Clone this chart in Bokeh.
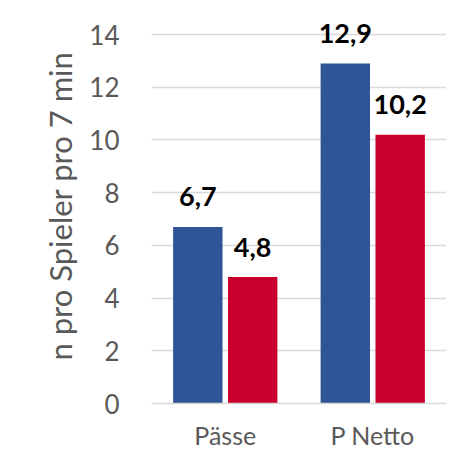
from bokeh.plotting import figure
from bokeh.models import ColumnDataSource, FixedTicker, Range1d
from bokeh.transform import dodge
from bokeh.core.properties import value
from bokeh.embed import file_html
from bokeh.resources import INLINE

categories = ["Pässe", "P Netto"]
series_a = [6.7, 12.9]
series_b = [4.8, 10.2]
labels_a = ["6,7", "12,9"]
labels_b = ["4,8", "10,2"]
y_ticks = [0, 2, 4, 6, 8, 10, 12, 14]

BLUE = "#2F5597"
RED = "#C9002F"
GRID = "#D9D9D9"
TXT = "#595959"
FONT = "Lato"

src = ColumnDataSource(dict(cat=categories, a=series_a, b=series_b, la=labels_a, lb=labels_b))

p = figure(x_range=categories, y_range=Range1d(0, 14.99), width=446, height=464,
           output_backend="svg", toolbar_location=None,
           min_border_left=151, min_border_right=0, min_border_top=8, min_border_bottom=61)
p.x_range.range_padding = 0

p.vbar(x=dodge("cat", -0.186, range=p.x_range), top="a", width=0.335, source=src,
       fill_color=BLUE, line_color=None)
p.vbar(x=dodge("cat", 0.186, range=p.x_range), top="b", width=0.335, source=src,
       fill_color=RED, line_color=None)

p.text(x=dodge("cat", -0.186, range=p.x_range), y="a", text="la", source=src,
       text_align="center", text_baseline="alphabetic", y_offset=-30,
       text_font=value(FONT), text_font_style="bold", text_font_size="27px", text_color="black")
p.text(x=dodge("cat", 0.186, range=p.x_range), y="b", text="lb", source=src,
       text_align="center", text_baseline="alphabetic", y_offset=-30,
       text_font=value(FONT), text_font_style="bold", text_font_size="27px", text_color="black")

p.outline_line_color = None
p.xgrid.grid_line_color = None
p.ygrid.grid_line_color = GRID
p.ygrid.grid_line_width = 1.5

p.yaxis.ticker = FixedTicker(ticks=y_ticks)
p.yaxis.axis_line_color = None
p.yaxis.major_tick_line_color = None
p.yaxis.minor_tick_line_color = None
p.yaxis.major_tick_out = 0
p.yaxis.major_label_standoff = 32
p.yaxis.major_label_text_font = FONT
p.yaxis.major_label_text_font_size = "26px"
p.yaxis.major_label_text_color = TXT
p.yaxis.axis_label = "n pro Spieler pro 7 min"
p.yaxis.axis_label_text_font = FONT
p.yaxis.axis_label_text_font_size = "31px"
p.yaxis.axis_label_text_font_style = "normal"
p.yaxis.axis_label_text_color = TXT
p.yaxis.axis_label_standoff = 7

p.xaxis.axis_line_color = GRID
p.xaxis.axis_line_width = 1.5
p.xaxis.major_tick_line_color = None
p.xaxis.minor_tick_line_color = None
p.xaxis.major_tick_out = 0
p.xaxis.major_label_standoff = 16
p.xaxis.major_label_text_font = FONT
p.xaxis.major_label_text_font_size = "25px"
p.xaxis.major_label_text_color = TXT

open("out.html", "w").write(file_html(p, INLINE))
